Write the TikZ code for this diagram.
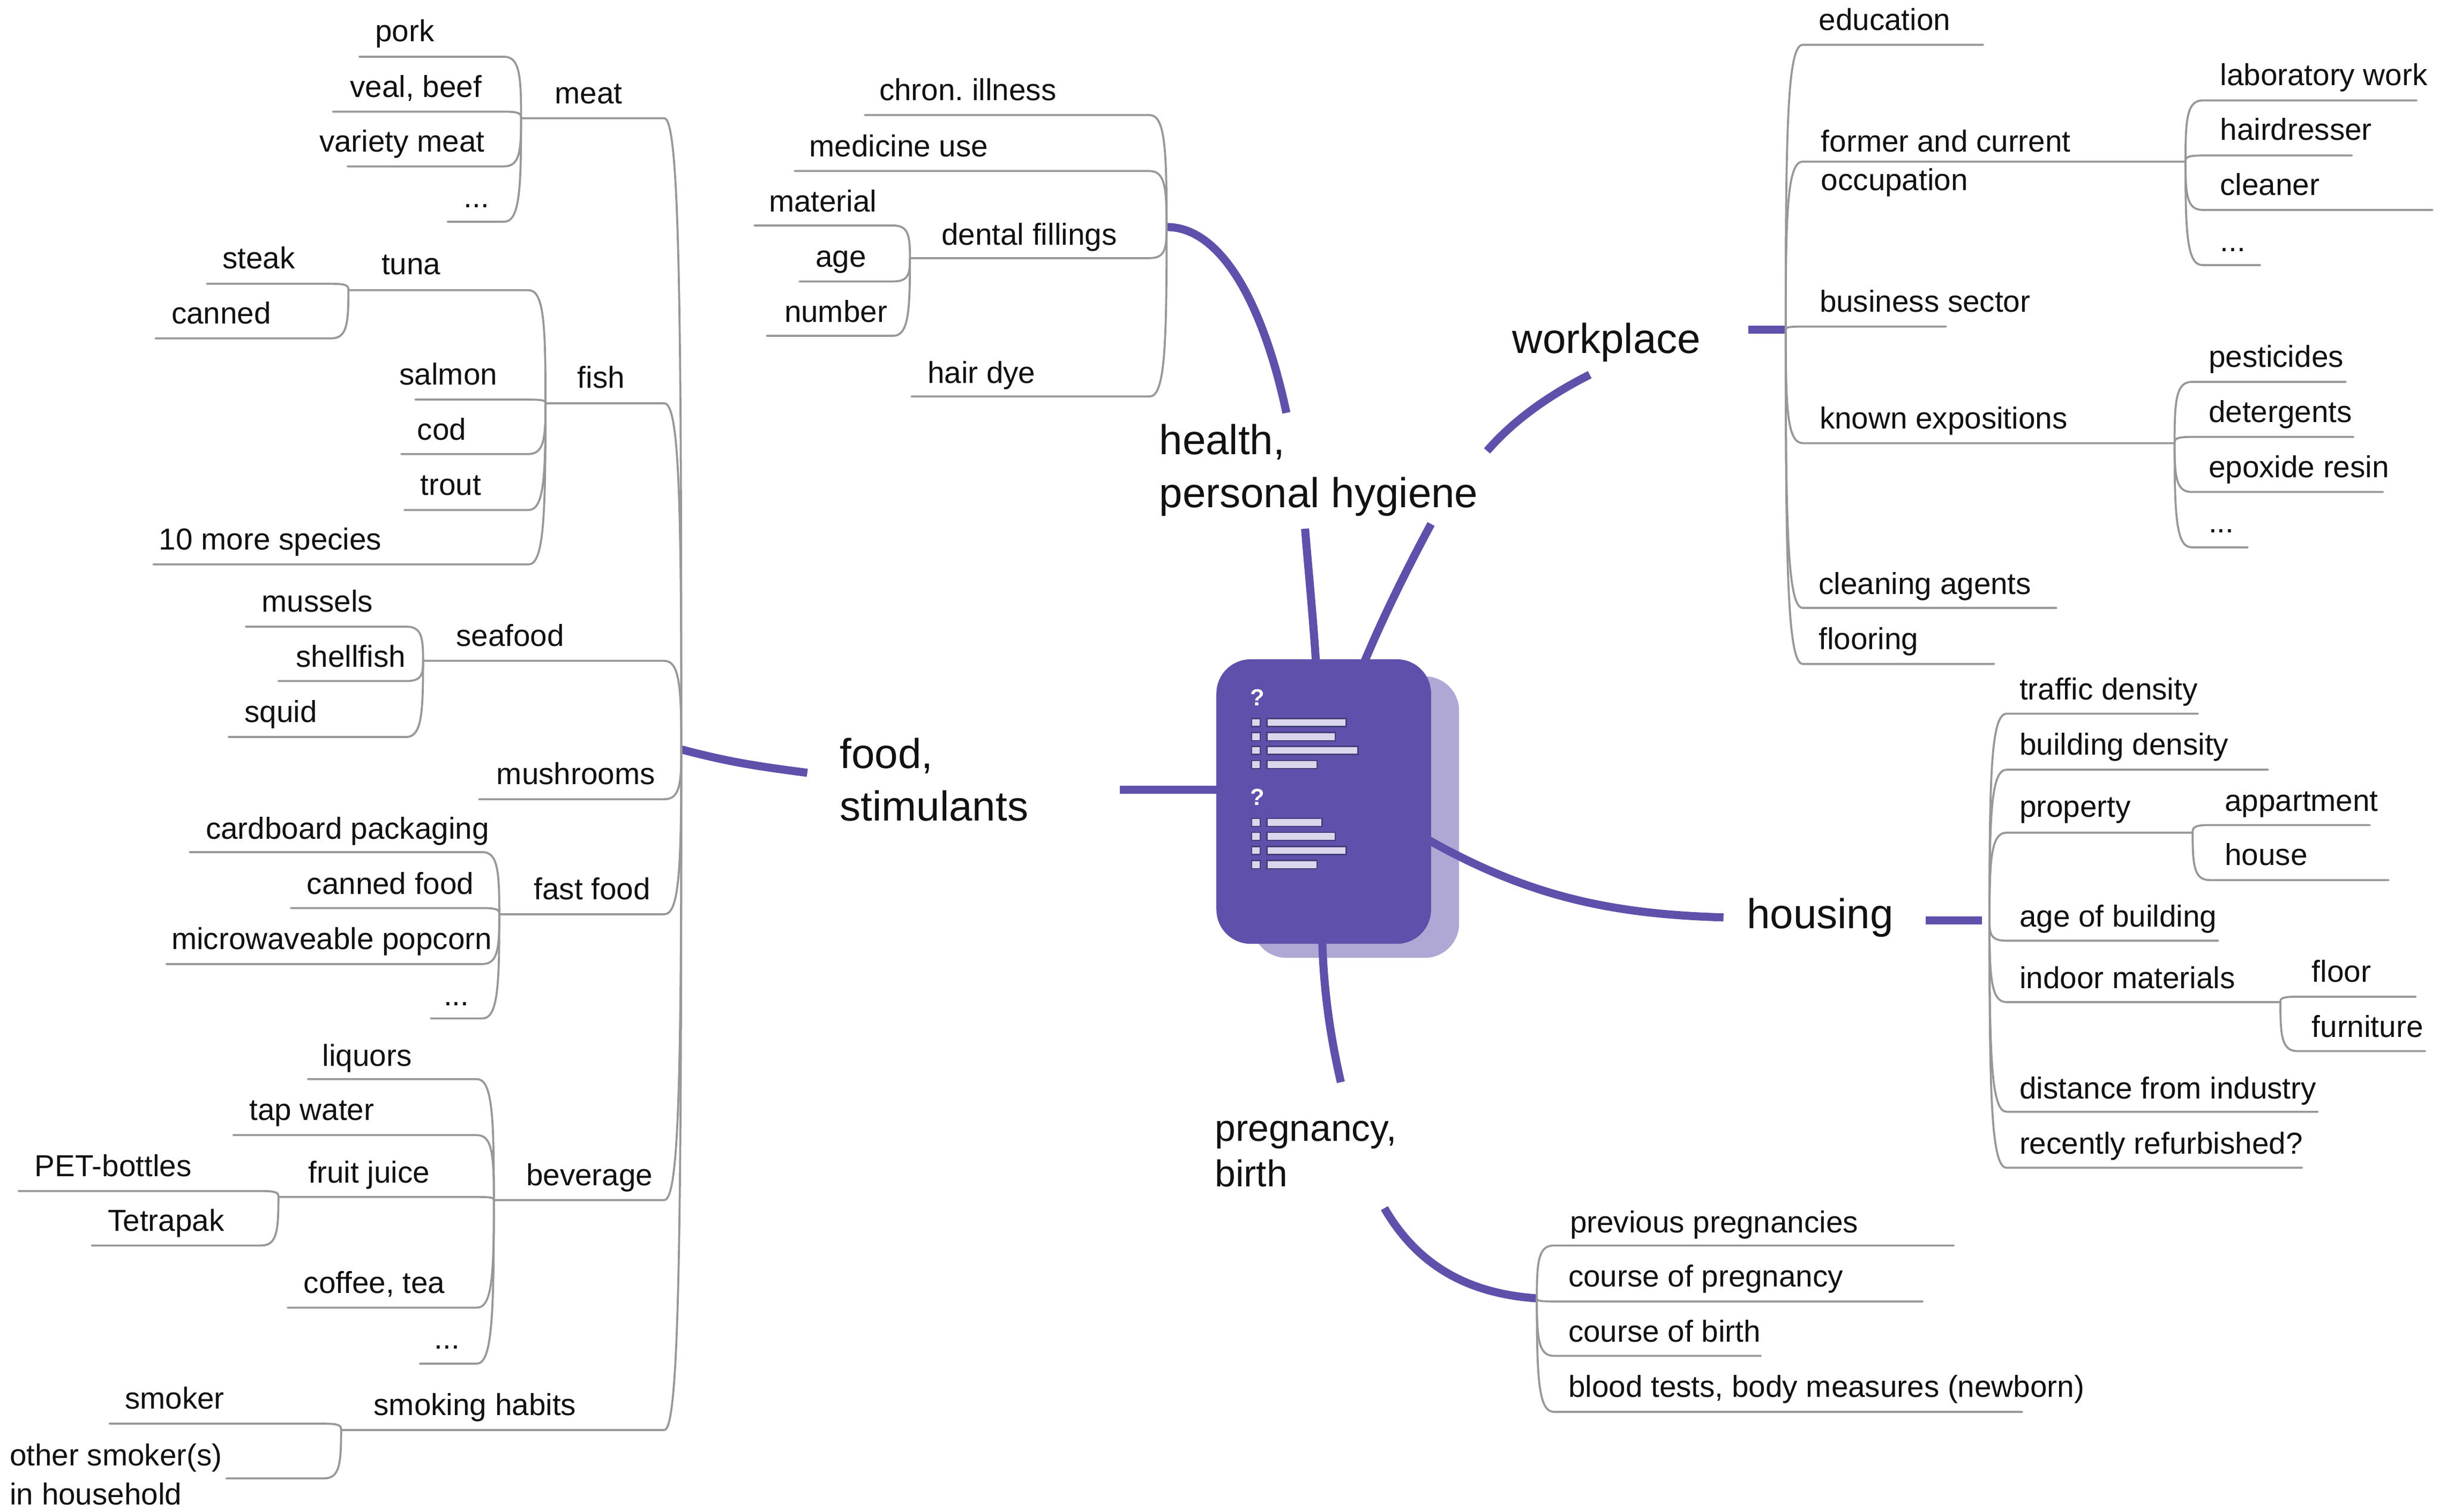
\documentclass[tikz,border=0pt]{standalone}
\usepackage{fontspec}
\setmainfont{Liberation Sans}
\usetikzlibrary{calc}
\frenchspacing
\definecolor{brand}{HTML}{5F51AB}
\definecolor{brandlight}{HTML}{AFA8D5}
\definecolor{barfill}{HTML}{DAD7EC}
\definecolor{bardark}{HTML}{453E7C}
\definecolor{twiggray}{HTML}{989898}
\definecolor{ink}{HTML}{111111}
\tikzset{
  twig/.style={draw=twiggray,line width=1.3pt,line cap=round},
  branch/.style={draw=brand,line width=5.2pt},
  lab/.style={inner sep=0pt,outer sep=0pt,text=ink,font=\fontsize{19.5}{25}\selectfont\frenchspacing,align=left},
  biglab/.style={inner sep=0pt,outer sep=0pt,text=ink,font=\fontsize{26.9}{34}\selectfont,align=left},
  midlab/.style={inner sep=0pt,outer sep=0pt,text=ink,font=\fontsize{24}{29}\selectfont,align=left},
  bar/.style={fill=barfill,draw=bardark,line width=0.8pt},
  qmark/.style={inner sep=0pt,text=white,font=\fontsize{15}{15}\selectfont\bfseries},
}
% name, far x, underline y, text x, baseline y, text
\newcommand\lf[6]{%
  \coordinate (#1b) at (#2,-#3);
  \node[lab,anchor=base west] (#1) at (#4+0.3,-#5-0.6) {#6};}
% parent coordinate, child name
\newcommand\tw[2]{%
  \draw[twig] let \p1=(#1),\p2=(#2b),\n1={ifthenelse(\x2>\x1,1,-1)} in
    (\p1) .. controls ({\x1},{\y1+0.7*(\y2-\y1)}) and ({\x1+\n1*1},{\y2}) .. ({\x1+\n1*11},{\y2}) -- (\p2);}
% bullet and bar: y, right end
\newcommand\qline[2]{%
  \draw[bar] (804.7,-#1-2.6) rectangle (810.2,-#1+2.6);
  \draw[bar] (814.5,-#1-2.6) rectangle (#2,-#1+2.6);}
\begin{document}
\begin{tikzpicture}[x=1pt,y=1pt]
\useasboundingbox (0,0) rectangle (1568,-972.4);
% shadow of the central icon
\node[fill=brandlight,minimum width=133pt,minimum height=181pt,inner sep=0pt,rounded corners=22pt] (iconshadow) at (871.5,-525.5) {};
% hubs
\coordinate (foodhub) at (438,-482);
\coordinate (healthhub) at (750,-146);
\coordinate (workhub) at (1148,-212);
\coordinate (househub) at (1279,-592);
\coordinate (preghub) at (988,-835);
% branch ends
\coordinate (hA) at (846,-426);
\coordinate (hB) at (839,-340);
\coordinate (hC) at (827,-265.5);
\coordinate (wA) at (877,-426);
\coordinate (wB) at (920,-337);
\coordinate (wC) at (956,-290);
\coordinate (wD) at (1022,-241);
\coordinate (wE) at (1124,-212);
\coordinate (oA) at (918,-540);
\coordinate (oB) at (1108,-590);
\coordinate (oC) at (1238,-592);
\coordinate (oD) at (1274,-592);
\coordinate (fA) at (784,-508);
\coordinate (fB) at (720,-508);
\coordinate (fC) at (519,-497);
\coordinate (pA) at (850,-604);
\coordinate (pB) at (862,-696);
\coordinate (pC) at (890,-777);
% branches
\draw[branch] (hA) .. controls (844,-395) and (841,-365) .. (hB);
\draw[branch] (hC) .. controls (812,-195) and (785,-146) .. (healthhub);
\draw[branch] (wA) .. controls (890,-395) and (905,-365) .. (wB);
\draw[branch] (wC) .. controls (975,-268) and (1000,-252) .. (wD);
\draw[branch] (wE) -- (workhub);
\draw[branch] (oA) .. controls (985,-578) and (1040,-588) .. (oB);
\draw[branch] (oC) -- (oD);
\draw[branch] (fA) -- (fB);
\draw[branch] (fC) .. controls (480,-492) and (465,-489) .. (foodhub);
\draw[branch] (pA) .. controls (851,-640) and (856,-670) .. (pB);
\draw[branch] (pC) .. controls (912,-815) and (945,-832) .. (preghub);
% central icon
\node[fill=brand,minimum width=138pt,minimum height=183pt,inner sep=0pt,rounded corners=22pt] (icon) at (851,-515.5) {};
\node[qmark] (qa) at (808.5,-448.5) {?};
\node[qmark] (qb) at (808.5,-512.5) {?};
\qline{464.7}{865.4}
\qline{473.7}{858.4}
\qline{482.6}{873}
\qline{491.7}{846.6}
\qline{529}{850}
\qline{537.8}{858.4}
\qline{547}{865.4}
\qline{556}{846.6}
% main labels
\node[biglab,anchor=base west] (health) at (745.3,-326.3) {health,\\personal hygiene};
\node[biglab,anchor=base west] (workplace) at (972.3,-227) {workplace};
\node[biglab,anchor=base west] (food) at (540,-528) {food,\\stimulants};
\node[biglab,anchor=base west] (housing) at (1123,-597) {housing};
\node[midlab,anchor=base west] (pregnancy) at (781,-763) {pregnancy,\\birth};
% food
\lf{meat}{335}{76}{356.5}{66}{meat}
\lf{pork}{231}{36.5}{241}{26}{pork}
\lf{veal}{214}{71.8}{224.8}{62}{veal, beef}
\lf{variety}{223.4}{107}{205}{97}{variety meat}
\lf{meatdots}{287.7}{142.6}{298}{133}{...}
\lf{fish}{350.7}{259.4}{371}{249}{fish}
\lf{tuna}{224}{186.6}{245}{176}{tuna}
\lf{steak}{133}{182.5}{142.8}{172}{steak}
\lf{canned}{100}{217.6}{110}{207.5}{canned}
\lf{salmon}{267}{257}{256.5}{247}{salmon}
\lf{cod}{258}{292}{268}{282.5}{cod}
\lf{trout}{260}{328}{270}{318}{trout}
\lf{species}{98.6}{363}{102}{353}{10 more species}
\lf{seafood}{272}{425}{293}{415}{seafood}
\lf{mussels}{158}{403}{168}{393}{mussels}
\lf{shellfish}{179}{438}{190}{428.5}{shellfish}
\lf{squid}{147}{474}{157}{464}{squid}
\lf{mushrooms}{308}{514}{319}{504}{mushrooms}
\lf{fastfood}{321}{588}{343}{578}{fast food}
\lf{cardboard}{122}{548}{132}{539}{cardboard packaging}
\lf{cannedfood}{187}{584}{197}{574.5}{canned food}
\lf{popcorn}{107}{620}{110}{610}{microwaveable popcorn}
\lf{fastdots}{277}{655}{285}{646}{...}
\lf{beverage}{317.5}{771.8}{338}{762}{beverage}
\lf{liquors}{198}{694}{207}{685}{liquors}
\lf{tap}{150}{730}{160}{720}{tap water}
\lf{juice}{179}{769.8}{198}{760}{fruit juice}
\lf{pet}{12}{766}{22}{756}{PET-bottles}
\lf{tetra}{59}{801}{69}{791}{Tetrapak}
\lf{coffee}{185}{841}{195}{831}{coffee, tea}
\lf{bevdots}{270}{877}{279}{867}{...}
\lf{smoking}{219.3}{919.7}{240}{909.5}{smoking habits}
\lf{smoker}{70.4}{915.6}{80}{905.5}{smoker}
\lf{other}{145.5}{950.8}{6}{967}{other smoker(s)\\in household}
\tw{foodhub}{meat}\tw{meatb}{pork}\tw{meatb}{veal}\tw{meatb}{variety}\tw{meatb}{meatdots}
\tw{foodhub}{fish}\tw{fishb}{tuna}\tw{tunab}{steak}\tw{tunab}{canned}\tw{fishb}{salmon}\tw{fishb}{cod}\tw{fishb}{trout}\tw{fishb}{species}
\tw{foodhub}{seafood}\tw{seafoodb}{mussels}\tw{seafoodb}{shellfish}\tw{seafoodb}{squid}
\tw{foodhub}{mushrooms}
\tw{foodhub}{fastfood}\tw{fastfoodb}{cardboard}\tw{fastfoodb}{cannedfood}\tw{fastfoodb}{popcorn}\tw{fastfoodb}{fastdots}
\tw{foodhub}{beverage}\tw{beverageb}{liquors}\tw{beverageb}{tap}\tw{beverageb}{juice}\tw{juiceb}{pet}\tw{juiceb}{tetra}\tw{beverageb}{coffee}\tw{beverageb}{bevdots}
\tw{foodhub}{smoking}\tw{smokingb}{smoker}\tw{smokingb}{other}
% health
\lf{chron}{556}{74}{565}{64}{chron. illness}
\lf{medicine}{511}{110}{520}{100}{medicine use}
\lf{dental}{585}{166}{605}{157}{dental fillings}
\lf{material}{485}{145}{494}{135.5}{material}
\lf{age}{514}{181}{524}{171}{age}
\lf{number}{493}{216}{504}{206.5}{number}
\lf{hairdye}{586}{255}{596}{246}{hair dye}
\tw{healthhub}{chron}\tw{healthhub}{medicine}\tw{healthhub}{dental}\tw{healthhub}{hairdye}
\tw{dentalb}{material}\tw{dentalb}{age}\tw{dentalb}{number}
% workplace
\lf{education}{1275}{28.8}{1169}{19}{education}
\lf{occupation}{1405}{103.9}{1170.5}{122}{former and current\\occupation}
\lf{lab}{1553.6}{64.6}{1427}{54.5}{laboratory work}
\lf{hairdresser}{1512}{100}{1427}{89.6}{hairdresser}
\lf{cleaner}{1563.8}{135}{1427}{125}{cleaner}
\lf{occdots}{1453}{170.5}{1427}{161}{...}
\lf{business}{1251}{210}{1169.5}{200}{business sector}
\lf{known}{1398}{285}{1169.5}{275}{known expositions}
\lf{pesticides}{1508}{245.6}{1419.6}{235.5}{pesticides}
\lf{detergents}{1513}{281}{1419.6}{271}{detergents}
\lf{epoxide}{1532}{316.4}{1419.6}{306.5}{epoxide resin}
\lf{knowndots}{1445}{352}{1419.6}{342}{...}
\lf{cleaning}{1322}{391}{1169}{381.5}{cleaning agents}
\lf{flooring}{1282}{427}{1169}{417}{flooring}
\tw{workhub}{education}\tw{workhub}{occupation}\tw{workhub}{business}\tw{workhub}{known}\tw{workhub}{cleaning}\tw{workhub}{flooring}
\tw{occupationb}{lab}\tw{occupationb}{hairdresser}\tw{occupationb}{cleaner}\tw{occupationb}{occdots}
\tw{knownb}{pesticides}\tw{knownb}{detergents}\tw{knownb}{epoxide}\tw{knownb}{knowndots}
% housing
\lf{traffic}{1413}{459}{1298}{449.5}{traffic density}
\lf{building}{1458}{495}{1298}{485}{building density}
\lf{property}{1409.6}{535.5}{1298}{525}{property}
\lf{appartment}{1523.5}{530.6}{1430}{521}{appartment}
\lf{house}{1535.5}{566}{1430}{556}{house}
\lf{agebuilding}{1426}{605}{1298}{595.5}{age of building}
\lf{indoor}{1466}{644.5}{1298}{635}{indoor materials}
\lf{floor}{1553}{641}{1486}{631}{floor}
\lf{furniture}{1559}{676}{1486}{666.5}{furniture}
\lf{distance}{1490}{715}{1298}{706}{distance from industry}
\lf{recently}{1480}{751}{1298}{741.5}{recently refurbished?}
\tw{househub}{traffic}\tw{househub}{building}\tw{househub}{property}\tw{househub}{agebuilding}\tw{househub}{indoor}\tw{househub}{distance}\tw{househub}{recently}
\tw{propertyb}{appartment}\tw{propertyb}{house}
\tw{indoorb}{floor}\tw{indoorb}{furniture}
% pregnancy
\lf{previous}{1256}{801}{1009}{792}{previous pregnancies}
\lf{coursep}{1236}{837}{1008}{827}{course of pregnancy}
\lf{courseb}{1132}{872}{1008}{862.5}{course of birth}
\lf{blood}{1300}{908}{1008}{898}{blood tests, body measures (newborn)}
\tw{preghub}{previous}\tw{preghub}{coursep}\tw{preghub}{courseb}\tw{preghub}{blood}
\end{tikzpicture}
\end{document}
